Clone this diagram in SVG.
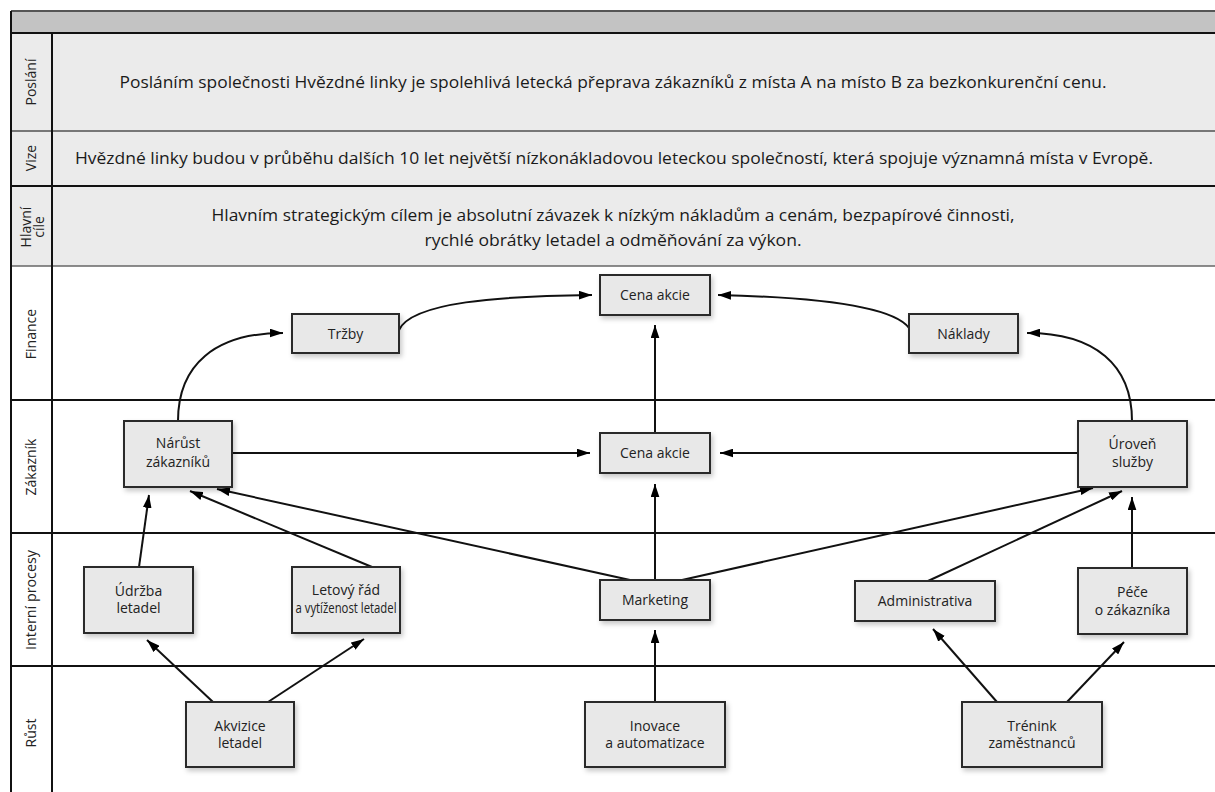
<svg xmlns="http://www.w3.org/2000/svg" width="1215" height="792" viewBox="0 0 1215 792">
<style>
.lbl{font-family:"Open Sans","Liberation Sans",sans-serif;font-size:14px;fill:#222;text-anchor:middle}
.hdr{font-family:"Open Sans","Liberation Sans",sans-serif;font-size:16px;fill:#1a1a1a;text-anchor:middle}
.nt{font-family:"Open Sans","Liberation Sans",sans-serif;font-size:14px;fill:#222;text-anchor:middle}
.box{fill:#e8e8e8;stroke:#2a2a2a;stroke-width:2;filter:url(#sh)}
.c{fill:none;stroke:#111;stroke-width:2;marker-end:url(#ah)}
</style>
<defs>
<marker id="ah" viewBox="0 0 12 8" refX="12" refY="4" markerWidth="13" markerHeight="9" markerUnits="userSpaceOnUse" orient="auto"><path d="M0,0 L12,4 L0,8 Z" fill="#000"/></marker>
<filter id="sh" x="-20%" y="-20%" width="150%" height="160%"><feDropShadow dx="2" dy="3" stdDeviation="2.5" flood-color="#000" flood-opacity="0.22"/></filter>
</defs>
<g id="frame">
<rect x="0" y="0" width="1215" height="792" fill="#fff"/>
<rect x="11" y="11" width="1210" height="22" fill="#c3c3c3"/>
<rect x="11" y="33" width="1210" height="233" fill="#ebebeb"/>
<line x1="11" y1="11" x2="1215" y2="11" stroke="#555" stroke-width="2"/>
<line x1="11" y1="33" x2="1215" y2="33" stroke="#111" stroke-width="2"/>
<line x1="11" y1="131" x2="1215" y2="131" stroke="#777" stroke-width="2"/>
<line x1="11" y1="186" x2="1215" y2="186" stroke="#111" stroke-width="2"/>
<line x1="11" y1="266" x2="1215" y2="266" stroke="#666" stroke-width="1.5"/>
<line x1="11" y1="400" x2="1215" y2="400" stroke="#111" stroke-width="2"/>
<line x1="11" y1="533" x2="1215" y2="533" stroke="#111" stroke-width="2"/>
<line x1="11" y1="666" x2="1215" y2="666" stroke="#111" stroke-width="2"/>
<line x1="11" y1="11" x2="11" y2="792" stroke="#111" stroke-width="2"/>
<line x1="52" y1="33" x2="52" y2="792" stroke="#111" stroke-width="2"/>
</g>
<g id="row-labels">
<text class="lbl" transform="translate(36,82) rotate(-90)">Poslání</text>
<text class="lbl" transform="translate(36,158) rotate(-90)">Vize</text>
<text class="lbl" transform="translate(31,227) rotate(-90)">Hlavní</text>
<text class="lbl" transform="translate(44,227) rotate(-90)">cíle</text>
<text class="lbl" transform="translate(36,334) rotate(-90)">Finance</text>
<text class="lbl" transform="translate(36,467) rotate(-90)">Zákazník</text>
<text class="lbl" transform="translate(36,600) rotate(-90)" textLength="100" lengthAdjust="spacingAndGlyphs">Interní procesy</text>
<text class="lbl" transform="translate(36,733) rotate(-90)">Růst</text>
</g>
<g id="statements">
<text class="hdr" x="613" y="88" textLength="987" lengthAdjust="spacingAndGlyphs">Posláním společnosti Hvězdné linky je spolehlivá letecká přeprava zákazníků z místa A na místo B za bezkonkurenční cenu.</text>
<text class="hdr" x="614" y="164" textLength="1078" lengthAdjust="spacingAndGlyphs">Hvězdné linky budou v průběhu dalších 10 let největší nízkonákladovou leteckou společností, která spojuje významná místa v Evropě.</text>
<text class="hdr" x="613" y="221" textLength="803" lengthAdjust="spacingAndGlyphs">Hlavním strategickým cílem je absolutní závazek k nízkým nákladům a cenám, bezpapírové činnosti,</text>
<text class="hdr" x="613" y="246" textLength="377" lengthAdjust="spacingAndGlyphs">rychlé obrátky letadel a odměňování za výkon.</text>
</g>
<g id="connectors">
<path class="c" d="M178,421 C178,365 215,333 283,333"/>
<path class="c" d="M399,330 C412,302 500,296 592,295"/>
<path class="c" d="M909,328 C892,305 805,297 718,295"/>
<path class="c" d="M1132,421 C1132,365 1095,333 1027,333"/>
<path class="c" d="M655,433 L655,325"/>
<path class="c" d="M232,453 L590,453"/>
<path class="c" d="M1078,453 L720,453"/>
<path class="c" d="M655,580 L655,484"/>
<path class="c" d="M139,567 L149,495"/>
<path class="c" d="M372,567 L190,491"/>
<path class="c" d="M630,580 L217,489"/>
<path class="c" d="M682,580 L1093,488"/>
<path class="c" d="M928,581 L1122,491"/>
<path class="c" d="M1132,568 L1132,497"/>
<path class="c" d="M213,702 L147,640"/>
<path class="c" d="M268,702 L364,639"/>
<path class="c" d="M655,702 L655,630"/>
<path class="c" d="M997,702 L933,629"/>
<path class="c" d="M1067,702 L1124,642"/>
</g>
<g id="n-trzby"><rect class="box" x="292" y="314" width="107" height="39"/><text class="nt" x="345.5" y="338.5">Tržby</text></g>
<g id="n-cena-top"><rect class="box" x="600" y="275" width="110" height="40"/><text class="nt" x="655" y="299.5">Cena akcie</text></g>
<g id="n-naklady"><rect class="box" x="909" y="314" width="109" height="39"/><text class="nt" x="963.5" y="338.5">Náklady</text></g>
<g id="n-narust"><rect class="box" x="124" y="421" width="108" height="66"/><text class="nt" x="178" y="448">Nárůst</text><text class="nt" x="178" y="467">zákazníků</text></g>
<g id="n-cena-mid"><rect class="box" x="600" y="433" width="110" height="40"/><text class="nt" x="655" y="457.5">Cena akcie</text></g>
<g id="n-uroven"><rect class="box" x="1078" y="421" width="109" height="66"/><text class="nt" x="1132.5" y="449">Úroveň</text><text class="nt" x="1132.5" y="467">služby</text></g>
<g id="n-udrzba"><rect class="box" x="84" y="567" width="109" height="66"/><text class="nt" x="138.5" y="596">Údržba</text><text class="nt" x="138.5" y="613">letadel</text></g>
<g id="n-letovy"><rect class="box" x="292" y="567" width="108" height="66"/><text class="nt" x="346" y="595">Letový řád</text><text class="nt" x="346" y="613" font-size="13" textLength="101" lengthAdjust="spacingAndGlyphs">a vytíženost letadel</text></g>
<g id="n-marketing"><rect class="box" x="600" y="580" width="110" height="40"/><text class="nt" x="655" y="604.5">Marketing</text></g>
<g id="n-admin"><rect class="box" x="855" y="581" width="140" height="40"/><text class="nt" x="925" y="605.5">Administrativa</text></g>
<g id="n-pece"><rect class="box" x="1078" y="568" width="109" height="66"/><text class="nt" x="1132.5" y="597">Péče</text><text class="nt" x="1132.5" y="615">o zákazníka</text></g>
<g id="n-akvizice"><rect class="box" x="186" y="702" width="108" height="65"/><text class="nt" x="240" y="731">Akvizice</text><text class="nt" x="240" y="748">letadel</text></g>
<g id="n-inovace"><rect class="box" x="585" y="702" width="140" height="65"/><text class="nt" x="655" y="731">Inovace</text><text class="nt" x="655" y="748">a automatizace</text></g>
<g id="n-trenink"><rect class="box" x="962" y="702" width="140" height="65"/><text class="nt" x="1032" y="731">Trénink</text><text class="nt" x="1032" y="748">zaměstnanců</text></g>
</svg>
